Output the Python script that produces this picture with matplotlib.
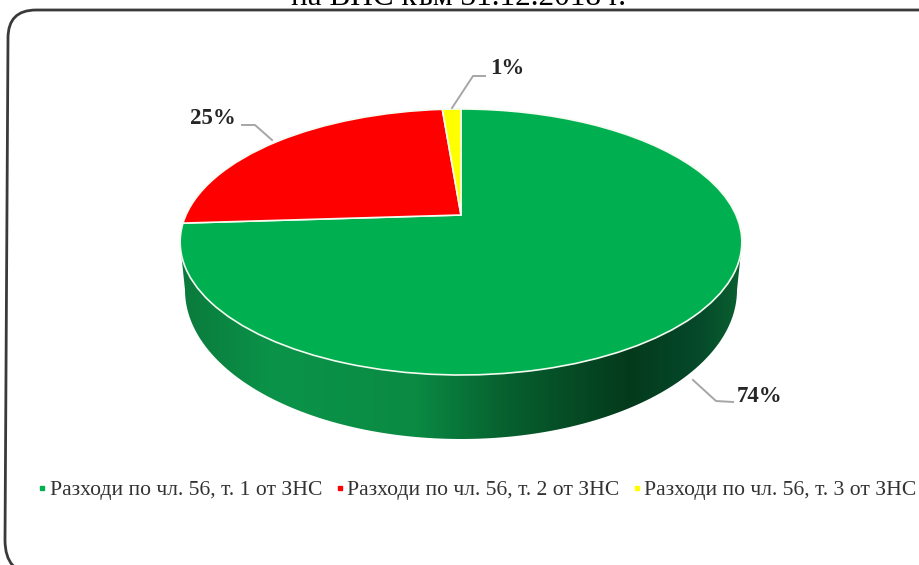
import matplotlib
matplotlib.use("Agg")
import matplotlib.pyplot as plt
import numpy as np
from matplotlib.colors import LinearSegmentedColormap
from matplotlib.lines import Line2D
from matplotlib.patches import PathPatch, Polygon
from matplotlib.path import Path
from matplotlib.transforms import Transform

plt.rcParams['font.family'] = ['Liberation Serif', 'DejaVu Sans']

# values (labels are rounded to 74, 25, 1)
categories = ["Разходи по чл. 56, т. 1 от ЗНС",
              "Разходи по чл. 56, т. 2 от ЗНС",
              "Разходи по чл. 56, т. 3 от ЗНС"]
shares = [74.0, 24.7, 1.3]
colors = ["#00b050", "#ff0000", "#ffff00"]
title_text = "на ВНС към 31.12.2018 г."


class PiePerspective(Transform):
    """Unit circle -> tilted disc in pixel coords, back of the pie is further away."""
    input_dims = 2
    output_dims = 2
    is_affine = False

    def __init__(self, cx, cy, rx, ry, k):
        super().__init__()
        self.cx, self.cy, self.rx, self.ry, self.k = cx, cy, rx, ry, k

    def transform_non_affine(self, values):
        values = np.asarray(values, dtype=float)
        w = 1 + self.k * values[:, 1]
        return np.column_stack([self.cx + self.rx * values[:, 0] / w,
                                self.cy - self.ry * values[:, 1] / w])


fig = plt.figure(figsize=(9.2, 5.65), dpi=100)
ax = fig.add_axes([0, 0, 1, 1])

# ---- top of the pie ----
wedges, _ = ax.pie(shares, colors=colors, startangle=90, counterclock=False,
                   wedgeprops=dict(edgecolor="#f4fbf0", linewidth=1.2))
persp = PiePerspective(461, 215, 275, 127.5, 0.203)
for w in wedges:
    w.set_transform(persp + ax.transData)
    w.set_zorder(3)

ax.set_aspect("auto")
ax.set_xlim(0, 920)
ax.set_ylim(565, 0)
ax.axis("off")

# ---- side wall, gradient clipped to the lower rim ----
t = np.linspace(np.pi, 0, 120)
wall_x = np.r_[180, 461 + 276 * np.cos(t), 742, 461]
wall_y = np.r_[242, 290 + 149 * np.sin(t), 242, 200]
wall = Polygon(np.column_stack([wall_x, wall_y]), closed=True, fc="none", ec="none",
               transform=ax.transData)
ax.add_patch(wall)
wall_cmap = LinearSegmentedColormap.from_list(
    "wall", [(0, "#0a7a3c"), (0.17, "#0b9449"), (0.42, "#0a8a43"), (0.58, "#07602f"),
             (0.80, "#043a1c"), (0.92, "#05482a"), (1, "#0a6030")])
grad = ax.imshow(np.linspace(0, 1, 256)[None, :], cmap=wall_cmap, aspect="auto",
                 extent=(180, 742, 445, 200), zorder=2)
grad.set_clip_path(wall)
ax.set_xlim(0, 920)
ax.set_ylim(565, 0)

# ---- chart frame ----
frame = Path([(960, 10), (36, 10), (8, 10), (8, 38), (5, 540), (5, 574), (36, 574)],
             [Path.MOVETO, Path.LINETO, Path.CURVE3, Path.CURVE3, Path.LINETO,
              Path.CURVE3, Path.CURVE3])
ax.add_patch(PathPatch(frame, fc="none", ec="#3a3a3a", lw=2, zorder=1))

# ---- title, cut off by the top of the crop ----
ax.text(459, 5, title_text, ha="center", va="baseline", fontsize=22.5, color="black")

# ---- data labels with leader lines ----
label_xy = [(760, 396), (213, 118), (507, 68)]
leaders = [[(693, 380), (716, 401), (733, 402)],
           [(272, 140), (255, 125), (242, 125)],
           [(452, 108), (473, 76), (485, 76)]]
for share, xy, leader in zip(shares, label_xy, leaders):
    ax.text(xy[0], xy[1], f"{round(share)}%", ha="center", va="center",
            fontsize=16.5, fontweight="bold", color="#262626", zorder=5)
    lx, ly = zip(*leader)
    ax.plot(lx, ly, color="#a6a6a6", lw=1.4, zorder=4)

# ---- legend ----
handles = [Line2D([], [], ls="none", marker="s", ms=3.5, color=c) for c in colors]
ax.legend(handles, categories, loc="center left", bbox_to_anchor=(39, 490),
          bbox_transform=ax.transData, ncol=3, frameon=False, fontsize=15.6,
          handlelength=0.3, handletextpad=0.2, columnspacing=0.65, borderpad=0,
          borderaxespad=0, labelcolor="#333333")

fig.savefig("out.png", dpi=100, facecolor="white")
